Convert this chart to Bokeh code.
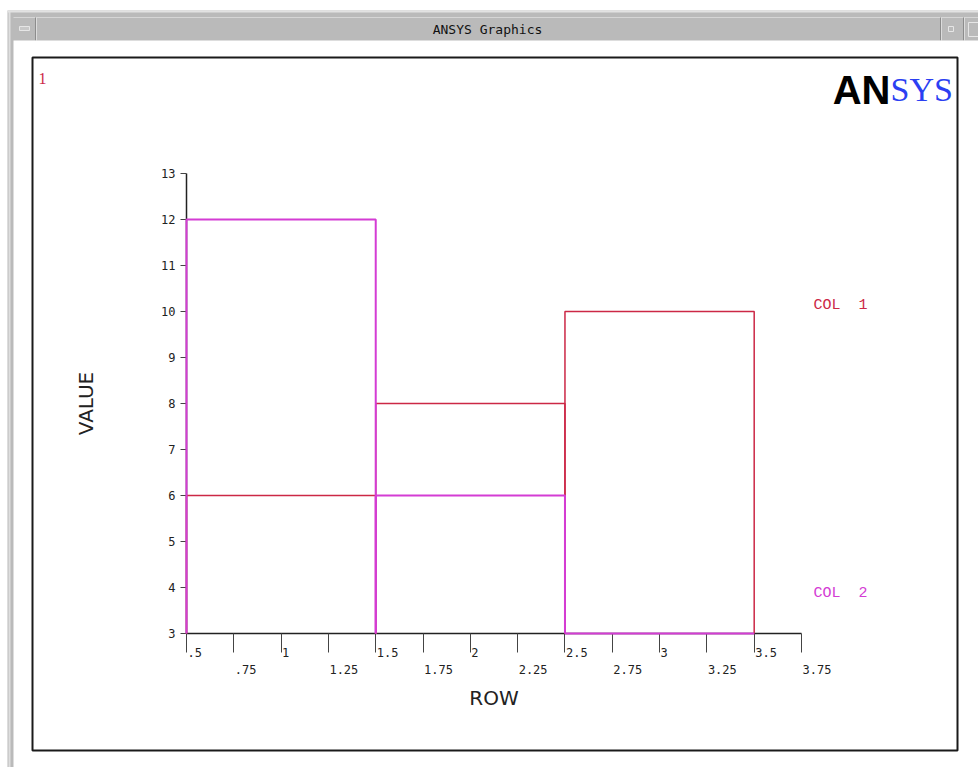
from bokeh.plotting import figure
from bokeh.models import Range1d, LinearAxis, FixedTicker
from bokeh.core.properties import value
from bokeh.embed import file_html
from bokeh.resources import INLINE

# ---------------- data ----------------
rows = [1, 2, 3]
col1 = [6, 8, 10]
col2 = [12, 6, 3]
series_names = ["COL  1", "COL  2"]

x_ticks_row1 = [0.5, 1.0, 1.5, 2.0, 2.5, 3.0, 3.5]
x_labels_row1 = [".5", "1", "1.5", "2", "2.5", "3", "3.5"]
x_ticks_row2 = [0.75, 1.25, 1.75, 2.25, 2.75, 3.25, 3.75]
x_labels_row2 = [".75", "1.25", "1.75", "2.25", "2.75", "3.25", "3.75"]
y_ticks = [3, 4, 5, 6, 7, 8, 9, 10, 11, 12, 13]

x_title = "ROW"
y_title = "VALUE"
window_title = "ANSYS Graphics"
plot_number = "1"

# ---------------- layout ----------------
W, H = 978, 767
X_MIN, X_MAX = 0.5, 3.75
Y_MIN, Y_MAX = 3, 13
PX_LEFT, PX_RIGHT = 186, 801      # canvas px of X_MIN / X_MAX
PX_BOTTOM, PX_TOP = 633, 173      # canvas px of Y_MIN / Y_MAX

ux = (X_MAX - X_MIN) / (PX_RIGHT - PX_LEFT)
x_start = X_MIN - PX_LEFT * ux
x_end = x_start + W * ux
uy = (Y_MAX - Y_MIN) / (PX_BOTTOM - PX_TOP)
y_start = Y_MIN - (H - PX_BOTTOM) * uy
y_end = y_start + H * uy

RED = "#cc2846"
MAG = "#d43cd4"
TICK_FONT = "DejaVu Sans Mono"
TICK_SIZE = "12px"
TEXT_DARK = "#222222"

p = figure(width=W, height=H, output_backend="svg", toolbar_location=None,
           x_axis_type=None, y_axis_type=None,
           x_range=Range1d(x_start, x_end), y_range=Range1d(y_start, y_end),
           min_border=0, title=None)
p.outline_line_color = None
p.background_fill_color = "white"
p.border_fill_color = "white"
p.extra_x_ranges = {"px": Range1d(0, W)}
p.extra_y_ranges = {"px": Range1d(H, 0)}

PX = dict(x_range_name="px", y_range_name="px")

# ---------------- window chrome ----------------
p.quad(left=[7], right=[W], top=[10], bottom=[H], fill_color="#bababa", line_color=None, **PX)
p.quad(left=[8], right=[10], top=[10], bottom=[H], fill_color="#dedede", line_color=None, **PX)
p.segment(x0=[7], y0=[11], x1=[W], y1=[11], line_color="#e2e2e2", line_width=2, **PX)
p.segment(x0=[13], y0=[17], x1=[W], y1=[17], line_color="#d6d6d6", line_width=1, **PX)
p.segment(x0=[35, 940, 963], y0=[17, 17, 17], x1=[35, 940, 963], y1=[40, 40, 40],
          line_color="#8c8c8c", line_width=1, **PX)
p.segment(x0=[36, 941, 964], y0=[17, 17, 17], x1=[36, 941, 964], y1=[40, 40, 40],
          line_color="#dcdcdc", line_width=1, **PX)
p.quad(left=[19], right=[29], top=[26], bottom=[30], fill_color="#c8c8c8",
       line_color="#e6e6e6", line_width=1, **PX)
p.quad(left=[948, 968], right=[953, 978], top=[26, 22], bottom=[31, 36], fill_color=None,
       line_color="#e6e6e6", line_width=1, **PX)
p.quad(left=[13], right=[W], top=[40], bottom=[H], fill_color="white", line_color=None, **PX)
p.text(x=[487], y=[29], text=[window_title], text_font=value("DejaVu Sans Mono"),
       text_font_size="13px", text_color="#111111", text_align="center",
       text_baseline="middle", **PX)
p.quad(left=[32], right=[957], top=[57], bottom=[750], fill_color=None,
       line_color="#1a1a1a", line_width=2, **PX)

# plot number + logo
p.text(x=[38], y=[78], text=[plot_number], text_font=value("Liberation Serif"),
       text_font_size="16px", text_color=RED, text_align="left",
       text_baseline="alphabetic", **PX)
p.text(x=[890], y=[89], text=["AN"], text_font=value("Liberation Sans"),
       text_font_style="bold", text_font_size="40px", text_color="black",
       text_align="right", text_baseline="alphabetic", **PX)
p.text(x=[890], y=[89], text=["SYS"], text_font=value("Liberation Serif"),
       text_font_size="34px", text_color="#2b3ff2", text_align="left",
       text_baseline="alphabetic", **PX)

# ---------------- axes ----------------
yaxis = LinearAxis(fixed_location=X_MIN, bounds=(Y_MIN, Y_MAX),
                   ticker=FixedTicker(ticks=y_ticks, minor_ticks=[]))
yaxis.axis_line_color = TEXT_DARK
yaxis.axis_line_width = 1.5
yaxis.major_tick_out = 6
yaxis.major_tick_in = 0
yaxis.major_tick_line_color = "#444444"
yaxis.major_label_standoff = 5
yaxis.major_label_text_font = TICK_FONT
yaxis.major_label_text_font_size = TICK_SIZE
yaxis.major_label_text_color = TEXT_DARK
yaxis.axis_label = y_title
yaxis.axis_label_text_font = "DejaVu Sans"
yaxis.axis_label_text_font_style = "normal"
yaxis.axis_label_text_font_size = "20px"
yaxis.axis_label_text_color = TEXT_DARK
yaxis.axis_label_standoff = 60
p.add_layout(yaxis, "left")

# x axis: line + every quarter tick; the ANSYS-style staggered, left-aligned
# tick labels are drawn below with text glyphs placed at the tick values
xaxis = LinearAxis(fixed_location=Y_MIN, bounds=(X_MIN, X_MAX),
                   ticker=FixedTicker(ticks=x_ticks_row1, minor_ticks=x_ticks_row2))
xaxis.axis_line_color = TEXT_DARK
xaxis.axis_line_width = 1.5
xaxis.major_tick_out = 19
xaxis.major_tick_in = 0
xaxis.minor_tick_out = 19
xaxis.minor_tick_in = 0
xaxis.major_tick_line_color = "#444444"
xaxis.minor_tick_line_color = "#444444"
xaxis.major_label_overrides = {float(t): "" for t in x_ticks_row1}
xaxis.major_label_text_font_size = "11px"
xaxis.major_label_standoff = 0
xaxis.axis_label = x_title
xaxis.axis_label_text_font = "DejaVu Sans"
xaxis.axis_label_text_font_style = "normal"
xaxis.axis_label_text_font_size = "20px"
xaxis.axis_label_text_color = TEXT_DARK
xaxis.axis_label_standoff = 33
p.add_layout(xaxis, "below")

p.text(x=x_ticks_row1, y=[Y_MIN] * len(x_ticks_row1), text=x_labels_row1,
       x_offset=1, y_offset=14, text_align="left", text_baseline="top",
       text_font=value(TICK_FONT), text_font_size=TICK_SIZE, text_color=TEXT_DARK)
p.text(x=x_ticks_row2, y=[Y_MIN] * len(x_ticks_row2), text=x_labels_row2,
       x_offset=1, y_offset=31, text_align="left", text_baseline="top",
       text_font=value(TICK_FONT), text_font_size=TICK_SIZE, text_color=TEXT_DARK)

# ---------------- bars (ANSYS draws each bar as an open outline from the base) ----------------
def bar_paths(vals):
    xs, ys = [], []
    for r, v in zip(rows, vals):
        xs.append([r - 0.5, r - 0.5, r + 0.5, r + 0.5])
        ys.append([Y_MIN, v, v, Y_MIN])
    return xs, ys

for vals, color, lw in ((col1, RED, 1.5), (col2, MAG, 2.0)):
    xs, ys = bar_paths(vals)
    r = p.multi_line(xs, ys, line_color=color, line_width=lw)
    r.level = "overlay"

# series labels (legend)
p.text(x=[813, 813], y=[305, 593],
       text=[n.replace(" ", "\u00a0") for n in series_names],
       text_color=[RED, MAG], text_font=value("Liberation Mono"),
       text_font_size="15px", text_align="left", text_baseline="middle", **PX)

open("out.html", "w").write(file_html(p, INLINE))
